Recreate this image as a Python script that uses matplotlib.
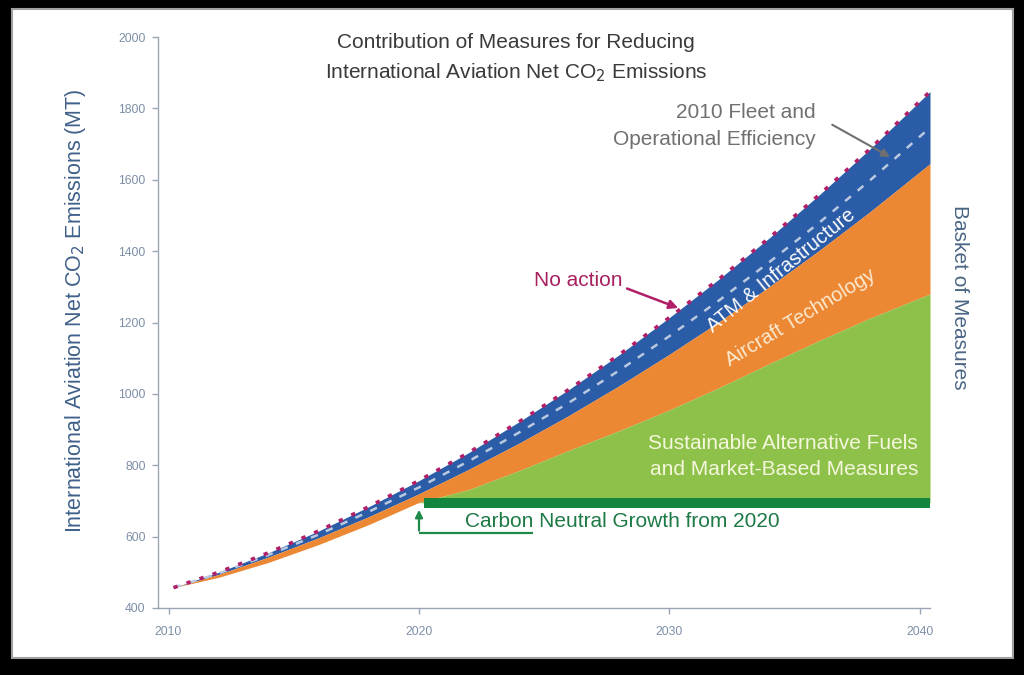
import matplotlib
matplotlib.use("Agg")
import matplotlib.pyplot as plt
from matplotlib import font_manager
from matplotlib.patches import Rectangle

# ---------------- data ----------------
years = [2010.2, 2012, 2014, 2016, 2018, 2020, 2022, 2024, 2026, 2028, 2030, 2032, 2034, 2036, 2038, 2040.4]
no_action = [457, 500, 555, 616, 684, 757, 836, 922, 1013, 1110, 1214, 1323, 1438, 1559, 1686, 1847]
fleet_2010 = [457, 497, 549, 606, 670, 738, 812, 892, 976, 1066, 1162, 1263, 1370, 1481, 1598, 1746]
atm_infrastructure = [457, 494, 543, 597, 656, 720, 789, 862, 940, 1023, 1111, 1203, 1301, 1403, 1510, 1645]
aircraft_technology = [457, 486, 528, 578, 634, 696, 732, 785, 842, 897, 955, 1018, 1085, 1150, 1212, 1280]
cng_years = [2020.2, 2040.4]
cng_level = [695, 695]

x_ticks = [2010, 2020, 2030, 2040]
y_ticks = [400, 600, 800, 1000, 1200, 1400, 1600, 1800, 2000]

# ---------------- style ----------------
names = {f.name for f in font_manager.fontManager.ttflist}
FONT = 'Liberation Sans Narrow' if 'Liberation Sans Narrow' in names else 'Liberation Sans'
plt.rcParams['font.family'] = [FONT, 'DejaVu Sans']

C_BLUE = '#2b5ca8'
C_ORANGE = '#ec8733'
C_LGREEN = '#8dc14a'
C_DGREEN = '#12853f'
C_PINK = '#b01f68'
C_DASH = '#b9c9df'
C_AXIS = '#9aa6b6'
C_TICK = '#7d8fa6'
C_YLAB = '#3f6089'

fig = plt.figure(figsize=(10.24, 6.75), dpi=100, facecolor='black')
fig.patches.append(Rectangle((12/1024, 17/675), 1001/1024, 649/675, transform=fig.transFigure,
                             facecolor='white', edgecolor='#a0a0a0', lw=1.5, zorder=-1))

ax = fig.add_axes([158/1024, 67/675, 772/1024, 571/675])
ax.patch.set_alpha(0)
ax.set_xlim(2009.58, 2040.4)
ax.set_ylim(400, 2000)

# stacked areas
ax.fill_between(years, atm_infrastructure, no_action, color=C_BLUE, lw=0, zorder=2)
ax.fill_between(years, aircraft_technology, atm_infrastructure, color=C_ORANGE, lw=0, zorder=2)
ax.fill_between(years, cng_level[0], aircraft_technology,
                where=[y >= 2020 for y in years], interpolate=True,
                color=C_LGREEN, lw=0, zorder=2)
ax.fill_between(cng_years, [v - 14 for v in cng_level], [v + 14 for v in cng_level],
                color=C_DGREEN, lw=0, zorder=3)

ax.plot(years, fleet_2010, color=C_DASH, lw=1.8, ls=(0, (3, 3.5)), zorder=4)
ax.plot(years, no_action, color=C_PINK, lw=2.6, ls=(0, (1.2, 2.6)), zorder=5)

# axes styling
for s in ['top', 'right']:
    ax.spines[s].set_visible(False)
for s in ['left', 'bottom']:
    ax.spines[s].set_color(C_AXIS)
    ax.spines[s].set_linewidth(1.0)
ax.set_xticks(x_ticks)
ax.set_yticks(y_ticks)
ax.tick_params(axis='both', colors=C_AXIS, labelcolor=C_TICK, labelsize=8.8, length=4, width=1)
ax.tick_params(axis='x', pad=9)
ax.tick_params(axis='y', pad=5)

ax.set_ylabel('International Aviation Net CO$_2$ Emissions (MT)', color=C_YLAB, fontsize=15.5)
ax.yaxis.set_label_coords(-0.091, 0.52)

# titles
fig.text(0.504, 0.937, 'Contribution of Measures for Reducing', ha='center', va='center',
         fontsize=15, color='#3a3a3a')
fig.text(0.504, 0.893, 'International Aviation Net CO$_2$ Emissions', ha='center', va='center',
         fontsize=15, color='#3a3a3a')

fig.text(960/1024, 1 - 297/675, 'Basket of Measures', rotation=270, ha='center', va='center',
         fontsize=15, color='#4a6585')

# annotations
ax.text(2035.85, 1750, '2010 Fleet and\nOperational Efficiency', ha='right', va='center',
        fontsize=15, color='#707070', linespacing=1.5)
ax.annotate('', xy=(2038.9, 1660), xytext=(2036.4, 1758),
            arrowprops=dict(arrowstyle='-|>', color='#707070', lw=1.5, mutation_scale=12))

ax.text(2026.35, 1318, 'No action', ha='center', va='center', fontsize=15, color='#a8205e')
ax.annotate('', xy=(2030.45, 1238), xytext=(2028.2, 1298),
            arrowprops=dict(arrowstyle='-|>', color='#b01f68', lw=1.8, mutation_scale=13))

ax.text(2034.45, 1345, 'ATM & Infrastructure', rotation=39, ha='center', va='center',
        fontsize=14.5, color='white', rotation_mode='anchor')
ax.text(2035.25, 1212, 'Aircraft Technology', rotation=31, ha='center', va='center',
        fontsize=14.5, color='#fbead0', rotation_mode='anchor')

ax.text(2039.92, 825, 'Sustainable Alternative Fuels\nand Market-Based Measures', ha='right', va='center',
        fontsize=15, color='#f4f7dc', linespacing=1.5)

ax.text(2021.84, 643, 'Carbon Neutral Growth from 2020', ha='left', va='center',
        fontsize=15, color='#1d7a45')
ax.plot([2020, 2024.55], [610, 610], color='#1d8a4a', lw=1.6, zorder=6, solid_capstyle='butt')
ax.annotate('', xy=(2020, 683), xytext=(2020, 609),
            arrowprops=dict(arrowstyle='-|>', color='#1d8a4a', lw=1.6, mutation_scale=11))

fig.savefig('out.png', dpi=100, facecolor=fig.get_facecolor())
